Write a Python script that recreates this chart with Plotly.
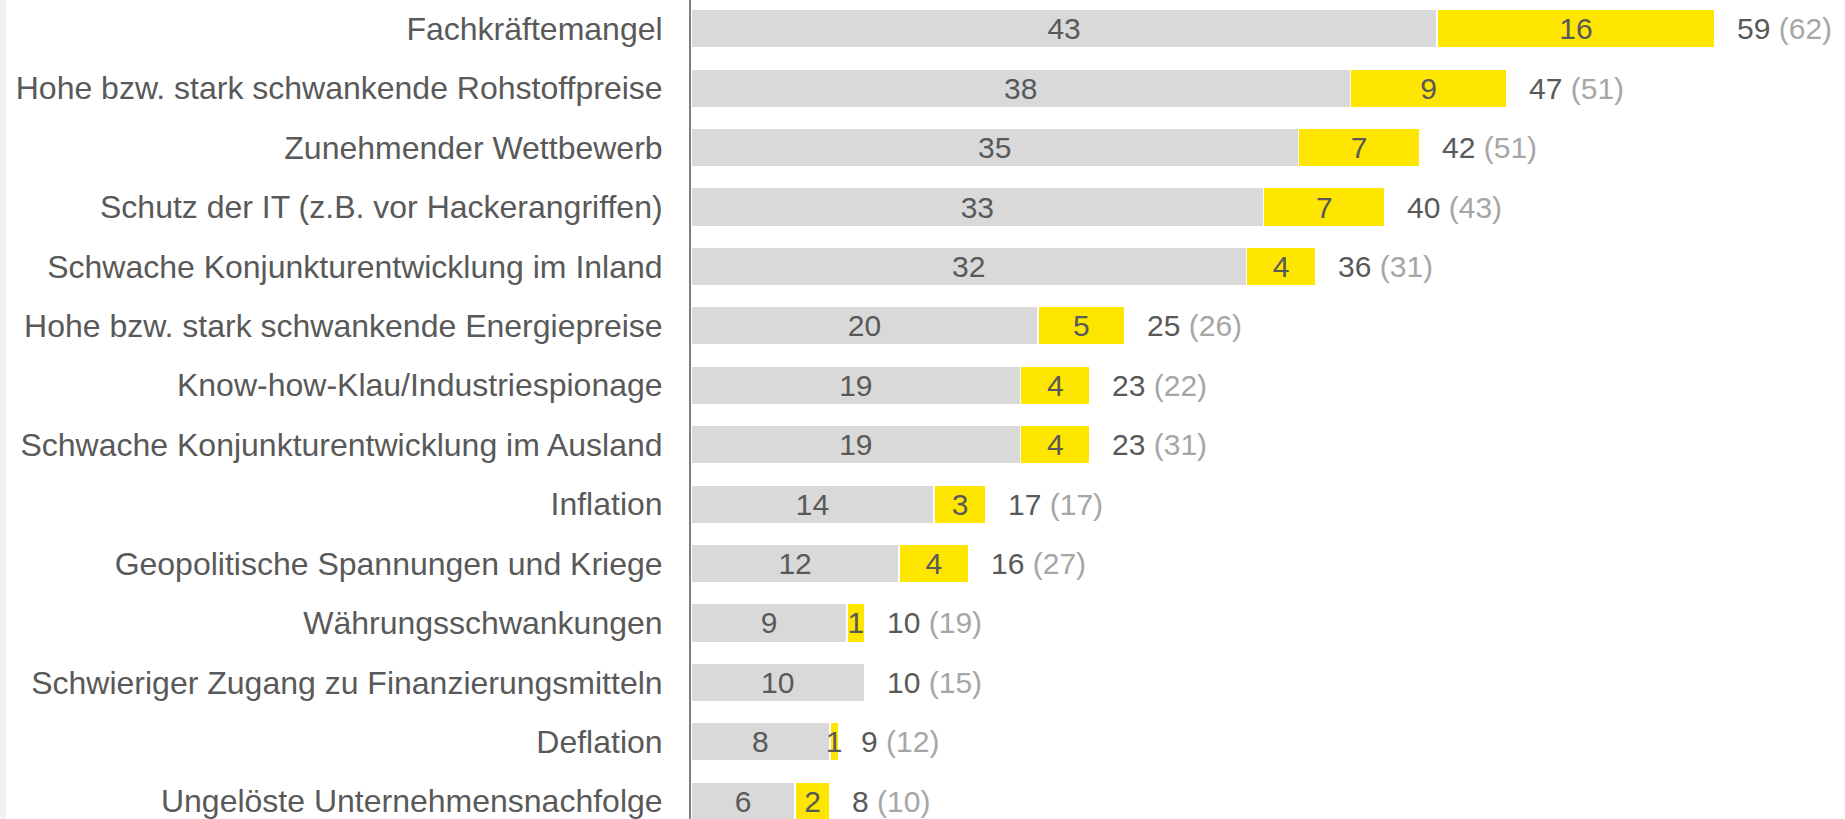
import plotly.graph_objects as go

categories = [
    "Fachkräftemangel",
    "Hohe bzw. stark schwankende Rohstoffpreise",
    "Zunehmender Wettbewerb",
    "Schutz der IT (z.B. vor Hackerangriffen)",
    "Schwache Konjunkturentwicklung im Inland",
    "Hohe bzw. stark schwankende Energiepreise",
    "Know-how-Klau/Industriespionage",
    "Schwache Konjunkturentwicklung im Ausland",
    "Inflation",
    "Geopolitische Spannungen und Kriege",
    "Währungsschwankungen",
    "Schwieriger Zugang zu Finanzierungsmitteln",
    "Deflation",
    "Ungelöste Unternehmensnachfolge",
]
base = [43, 38, 35, 33, 32, 20, 19, 19, 14, 12, 9, 10, 8, 6]
extra = [16, 9, 7, 7, 4, 5, 4, 4, 3, 4, 1, 0, 0.5, 2]
base_labels = ["43", "38", "35", "33", "32", "20", "19", "19", "14", "12", "9", "10", "8", "6"]
extra_labels = ["16", "9", "7", "7", "4", "5", "4", "4", "3", "4", "1", "", "1", "2"]
totals = [59, 47, 42, 40, 36, 25, 23, 23, 17, 16, 10, 10, 9, 8]
previous = [62, 51, 51, 43, 31, 26, 22, 31, 17, 27, 19, 15, 12, 10]

FONT = "Arial, Liberation Sans, sans-serif"
DARK = "#595959"
LIGHT = "#a6a6a6"
W, H = 1845, 819
LEFT = 691

fig = go.Figure()

fig.add_trace(
    go.Bar(
        y=categories,
        x=base,
        orientation="h",
        marker=dict(color="#d9d9d9", line=dict(color="white", width=1.5)),
        text=base_labels,
        textposition="inside",
        insidetextanchor="middle",
        textangle=0,
        textfont=dict(color=DARK, size=30, family=FONT),
        hoverinfo="skip",
    )
)

fig.add_trace(
    go.Bar(
        y=categories,
        x=extra,
        orientation="h",
        marker=dict(color="#ffe600", line=dict(color="white", width=1.5)),
        text=extra_labels,
        textposition="inside",
        insidetextanchor="middle",
        textangle=0,
        textfont=dict(color=DARK, size=30, family=FONT),
        hoverinfo="skip",
    )
)

for cat, b, e, t, p in zip(categories, base, extra, totals, previous):
    fig.add_annotation(
        x=b + e,
        y=cat,
        text=f"{t} <span style='color:{LIGHT}'>({p})</span>",
        showarrow=False,
        xanchor="left",
        xshift=20,
        font=dict(color=DARK, size=30, family=FONT),
    )

# thin light strip at the left page edge
fig.add_shape(
    type="rect",
    xref="paper",
    yref="paper",
    x0=-LEFT / (W - LEFT),
    x1=-(LEFT - 6) / (W - LEFT),
    y0=0,
    y1=1,
    fillcolor="#f2f2f2",
    line=dict(width=0),
    layer="below",
)

fig.update_layout(
    barmode="stack",
    bargap=0.35,
    width=W,
    height=H,
    margin=dict(l=LEFT, r=0, t=0, b=0),
    paper_bgcolor="white",
    plot_bgcolor="white",
    showlegend=False,
    uniformtext=dict(minsize=30, mode="show"),
    font=dict(family=FONT, color=DARK),
    xaxis=dict(
        range=[0, 66.5],
        visible=False,
        fixedrange=True,
    ),
    yaxis=dict(
        categoryorder="array",
        categoryarray=categories,
        range=[13.3, -0.485],
        showline=True,
        linecolor="#7f7f7f",
        linewidth=2,
        showgrid=False,
        ticks="",
        ticklabelstandoff=20,
        tickfont=dict(size=32, color=DARK, family=FONT),
    ),
)

fig.write_html(
    "out.html",
    config={"displayModeBar": False},
    post_script="document.body.style.margin='0';",
)
